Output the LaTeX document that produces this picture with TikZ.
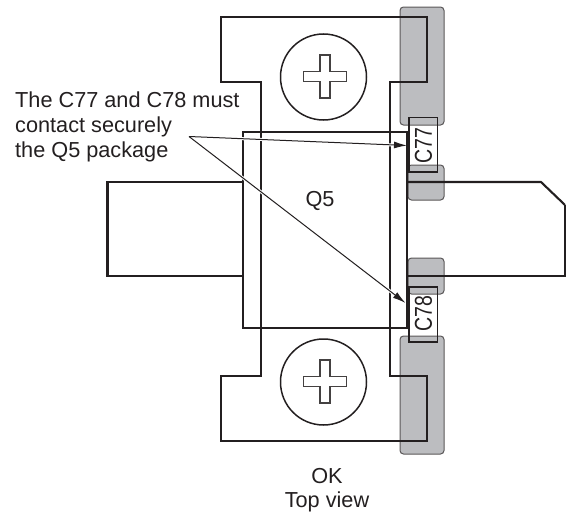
\documentclass[tikz,border=0pt]{standalone}
\usepackage{fontspec}
\setmainfont{Liberation Sans}
\usetikzlibrary{arrows.meta}
\definecolor{ink}{HTML}{231F20}
\definecolor{padgray}{HTML}{BCBDC0}
\tikzset{
  x=1pt,y=-1pt,
  heavy/.style={draw=ink,line width=2.1pt,line join=miter},
  thickest/.style={draw=ink,line width=2.7pt},
  pad/.style={draw=ink!75,line width=1pt,fill=padgray,rounded corners=3.5pt},
  capbox/.style={draw=ink,line width=1.7pt},
  screw/.style={draw=ink,line width=1.5pt},
  slot/.style={draw=ink!85,line width=1.2pt,fill=white},
  lbl/.style={text=ink,font=\fontsize{21.7pt}{25pt}\selectfont,inner sep=0pt},
  caplbl/.style={text=ink,font=\fontsize{19.5pt}{22pt}\selectfont,inner sep=0pt,rotate=90},
  halo/.style={draw=white,line width=3pt},
  pointer/.style={draw=ink,line width=1pt,-{Latex[length=13pt,width=7pt]}},
}
\newcommand{\crossat}[2]{%
  \draw[slot] (#1-5,#2-21.5) -- (#1+5,#2-21.5) -- (#1+5,#2-5) -- (#1+21.5,#2-5) -- (#1+21.5,#2+5)
   -- (#1+5,#2+5) -- (#1+5,#2+21.5) -- (#1-5,#2+21.5) -- (#1-5,#2+5) -- (#1-21.5,#2+5)
   -- (#1-21.5,#2-5) -- (#1-5,#2-5) -- cycle;}
\begin{document}
\begin{tikzpicture}
\useasboundingbox (0,0) rectangle (566,514);
% gray pads
\fill[pad,draw=ink!75] (400,7) rectangle (444,125);
\fill[pad,draw=ink!75] (400,336) rectangle (444,454);
\fill[pad,draw=ink!75] (408,165) rectangle (444,200);
\fill[pad,draw=ink!75] (408,258) rectangle (444,294);
% leads
\draw[heavy] (243,182) -- (107.5,182) -- (107.5,276) -- (243,276);
\draw[heavy] (407,182) -- (541,182) -- (565,205);
\draw[heavy,line width=1.6pt] (565,205) -- (565,276);
\draw[heavy] (565.5,276) -- (407,276);
% flange
\draw[heavy] (221,17) -- (427,17) -- (427,82) -- (390,82) -- (390,376) -- (427,376) -- (427,441)
  -- (221,441) -- (221,376) -- (261,376) -- (261,82) -- (221,82) -- cycle;
% package
\draw[heavy] (243,132) rectangle (407,328);
\draw[thickest] (407,132) -- (407,328);
% screws
\draw[screw] (323.5,77) circle (43);
\draw[screw] (323.5,382) circle (43);
\crossat{325}{76.5}
\crossat{325}{381.5}
% capacitors
\draw[capbox] (409,117.5) rectangle (437.5,172);
\draw[capbox] (409,287) rectangle (437.5,342);
\node[caplbl] (c77) at (423.5,145.5) {\scalebox{1}[1.25]{C77}};
\node[caplbl] (c78) at (423.5,314) {\scalebox{1}[1.25]{C78}};
% labels
\node[lbl,anchor=north west,align=left] (note) at (15,92) {The C77 and C78 must\\contact securely\\the Q5 package};
\node[lbl] (q5) at (320,200.5) {Q5};
\node[lbl,anchor=base] (ok) at (327,483) {OK};
\node[lbl,anchor=base] (top) at (327,507.5) {Top view};
% pointers
\coordinate (from) at (189,136.5);
\coordinate (tipa) at (407,145.5);
\coordinate (tipb) at (405.5,303);
\draw[halo,shorten <=12pt,shorten >=10pt] (from) -- (tipa);
\draw[halo,shorten <=12pt,shorten >=10pt] (from) -- (tipb);
\draw[pointer] (from) -- (tipa);
\draw[pointer] (from) -- (tipb);
\end{tikzpicture}
\end{document}
